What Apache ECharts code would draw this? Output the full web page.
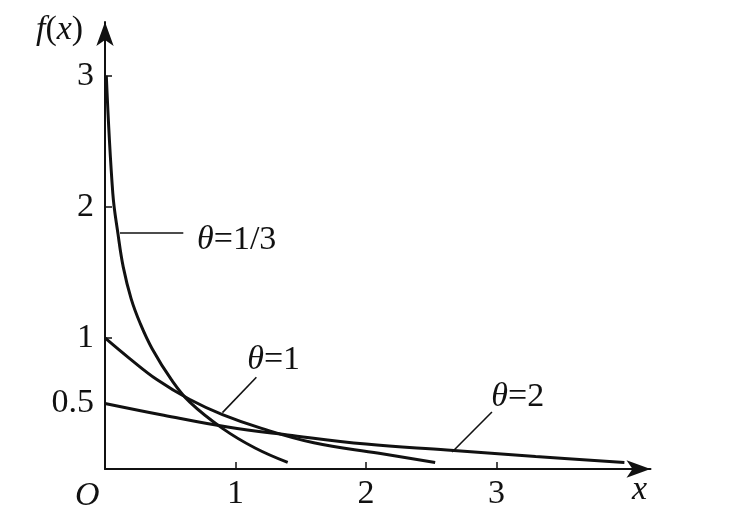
<!DOCTYPE html>
<html><head><meta charset="utf-8">
<script src="https://cdn.jsdelivr.net/npm/echarts@6/dist/echarts.min.js"></script>
<style>html,body{margin:0;padding:0;background:#fff}#c{width:732px;height:522px}</style>
</head><body><div id="c"></div>
<script>
// tick labels
const xTicks = [1, 2, 3];
const yTicks = [0.5, 1, 2, 3];
const yTickMarks = [1, 2, 3];
// curves: [x, f(x)]
const curveThird = [[0.01,3.0],[0.06,2.1],[0.10,1.79],[0.14,1.54],[0.20,1.30],[0.27,1.11],[0.36,0.92],[0.51,0.68],[0.65,0.51],[0.90,0.31],[1.15,0.16],[1.40,0.05]];
const curveOne = [[0,1.0],[0.18,0.85],[0.40,0.68],[0.65,0.53],[0.90,0.415],[1.20,0.31],[1.60,0.20],[2.10,0.12],[2.53,0.05]];
const curveTwo = [[0,0.5],[0.45,0.41],[0.94,0.32],[1.40,0.26],[2.00,0.19],[2.62,0.145],[3.30,0.095],[3.98,0.05]];
// leader lines: [start, end] in data coordinates
const leaderThird = [[0.115,1.80],[0.60,1.80]];
const leaderOne = [[0.90,0.43],[1.16,0.70]];
const leaderTwo = [[2.66,0.13],[2.965,0.435]];
// label anchors (left-middle of text) and texts
const anchorThird = [0.705, 1.75], anchorOne = [1.09, 0.83], anchorTwo = [2.96, 0.55];
const labelThird = '=1/3', labelOne = '=1', labelTwo = '=2';

const FONT = 'Liberation Serif';
const INK = '#111';
const FS = 34;

function curve(data, pts, anchor, text) {
  return {
    type: 'line', data: data, smooth: 0.4, showSymbol: false, silent: true,
    lineStyle: { color: INK, width: 3 },
    markLine: {
      silent: true, symbol: ['none', 'none'],
      lineStyle: { color: INK, width: 1.6, type: 'solid' },
      label: { show: false }, emphasis: { disabled: true },
      data: [[{ coord: pts[0] }, { coord: pts[1] }]]
    },
    markPoint: {
      silent: true, symbol: 'circle', symbolSize: 0,
      itemStyle: { color: 'rgba(0,0,0,0)' },
      label: {
        show: true, position: 'right', distance: 0,
        formatter: '{i|θ}{r|' + text + '}',
        rich: {
          i: { fontFamily: FONT, fontSize: FS, fontStyle: 'italic', color: INK },
          r: { fontFamily: FONT, fontSize: FS, color: INK }
        }
      },
      data: [{ coord: anchor }]
    }
  };
}

const chart = echarts.init(document.getElementById('c'));
chart.setOption({
  animation: false,
  backgroundColor: '#fff',
  grid: { left: 105, top: 22, width: 545.5, height: 447 },
  xAxis: {
    type: 'value', min: 0, max: 4.18,
    axisLine: { lineStyle: { color: INK, width: 2 }, symbol: ['none', 'arrow'], symbolSize: [13, 24] },
    axisTick: { show: true, inside: true, length: 7, customValues: xTicks, lineStyle: { color: INK, width: 1.5 } },
    axisLabel: { customValues: xTicks, fontFamily: FONT, fontSize: FS, color: INK, margin: 8 },
    splitLine: { show: false }
  },
  yAxis: {
    type: 'value', min: 0, max: 3.41,
    axisLine: { show: true, lineStyle: { color: INK, width: 2 }, symbol: ['none', 'arrow'], symbolSize: [13, 24] },
    axisTick: { show: true, inside: true, length: 7, customValues: yTickMarks, lineStyle: { color: INK, width: 1.5 } },
    axisLabel: { customValues: yTicks, fontFamily: FONT, fontSize: FS, color: INK, margin: 11 },
    splitLine: { show: false }
  },
  series: [
    curve(curveThird, leaderThird, anchorThird, labelThird),
    curve(curveOne, leaderOne, anchorOne, labelOne),
    curve(curveTwo, leaderTwo, anchorTwo, labelTwo)
  ],
  graphic: [
    { type: 'text', left: 36, top: 13, style: {
        text: '{i|f}{r|(}{i|x}{r|)}',
        rich: {
          i: { fontFamily: FONT, fontSize: FS, fontStyle: 'italic', fill: INK },
          r: { fontFamily: FONT, fontSize: FS, fill: INK }
        }
      } },
    { type: 'text', left: 75, top: 479, style: { text: 'O', font: 'italic 34px "Liberation Serif"', fill: INK } },
    { type: 'text', left: 632, top: 473, style: { text: 'x', font: 'italic 34px "Liberation Serif"', fill: INK } }
  ]
});
</script>
</body></html>
